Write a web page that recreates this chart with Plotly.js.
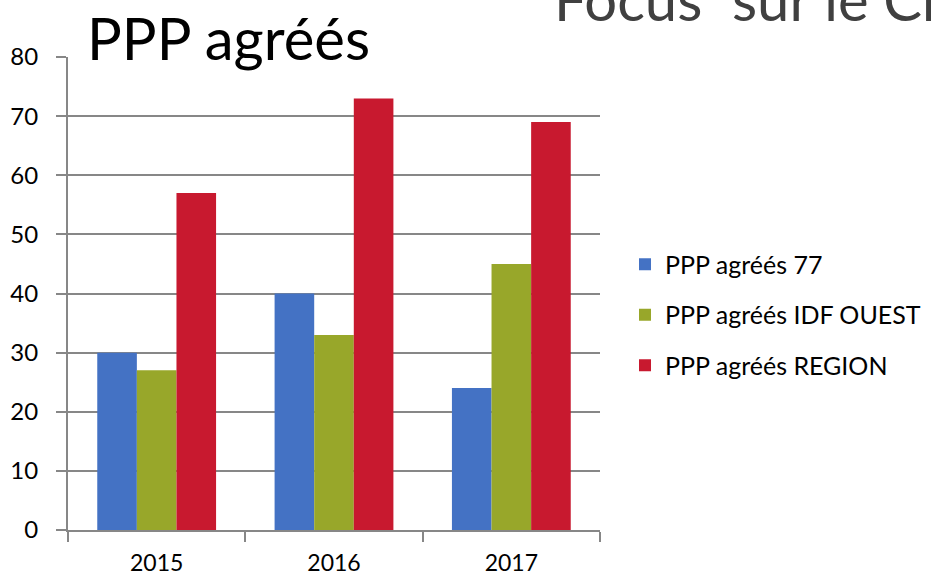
<!DOCTYPE html>
<html><head><meta charset="utf-8">
<script src="https://cdn.plot.ly/plotly-3.0.1.min.js"></script>
<style>html,body{margin:0;padding:0;background:#fff;}#chart{width:931px;height:579px;}</style>
</head><body><div id="chart"></div>
<script>
const years = ['2015', '2016', '2017'];
const seriesNames = ['PPP agréés 77', 'PPP agréés IDF OUEST', 'PPP agréés REGION'];
const values77 = [30, 40, 24];
const valuesIdfOuest = [27, 33, 45];
const valuesRegion = [57, 73, 69];
const colors = ['#4472c4', '#98a72a', '#c8192f'];
const yTicks = [0, 10, 20, 30, 40, 50, 60, 70, 80];

const allValues = [values77, valuesIdfOuest, valuesRegion];
const traces = allValues.map((v, i) => ({
  type: 'bar', x: years, y: v, name: seriesNames[i],
  marker: {color: colors[i], line: {width: 0}},
  legendgroup: 'g' + i, hoverinfo: 'none'
}));

const fnt = 'Lato, "Open Sans", sans-serif';
const layout = {
  width: 931, height: 579,
  margin: {l: 68, r: 331, t: 57, b: 49, autoexpand: false},
  paper_bgcolor: '#fff', plot_bgcolor: '#fff',
  barmode: 'group', bargap: 0.33, bargroupgap: 0,
  font: {family: fnt, color: '#000', size: 24},
  xaxis: {
    type: 'category', tickson: 'boundaries', ticks: 'outside', ticklen: 10,
    tickwidth: 2, tickcolor: '#878787', showline: true, linecolor: '#878787', linewidth: 2,
    showgrid: false, tickfont: {size: 23, family: fnt}, ticklabelstandoff: 11
  },
  yaxis: {
    range: [0, 80], tickvals: yTicks, ticks: 'outside', ticklen: 10, tickwidth: 2,
    tickcolor: '#878787', showline: true, linecolor: '#878787', linewidth: 2,
    showgrid: true, gridcolor: '#878787', gridwidth: 2, zeroline: false,
    tickfont: {size: 24, family: fnt}, ticklabelstandoff: 13
  },
  legend: {
    x: 1.047, xanchor: 'left', y: 0.61, yanchor: 'top',
    font: {size: 25, family: fnt, color: '#000'}, tracegroupgap: 15,
    bgcolor: 'rgba(0,0,0,0)', itemwidth: 30
  },
  annotations: [
    {text: 'PPP agréés', xref: 'paper', yref: 'paper', x: 0.032, y: 1.0, xanchor: 'left', yanchor: 'bottom',
     yshift: -17, showarrow: false, font: {size: 58, family: fnt, color: '#000'}},
    {text: 'Focus  sur le Ch', xref: 'paper', yref: 'paper', x: 0.9096, y: 1.0, xanchor: 'left', yanchor: 'bottom',
     yshift: 22, showarrow: false, font: {size: 58, family: fnt, color: '#404040'}}
  ],
  showlegend: true
};
Plotly.newPlot('chart', traces, layout, {staticPlot: true, displayModeBar: false});
</script></body></html>
